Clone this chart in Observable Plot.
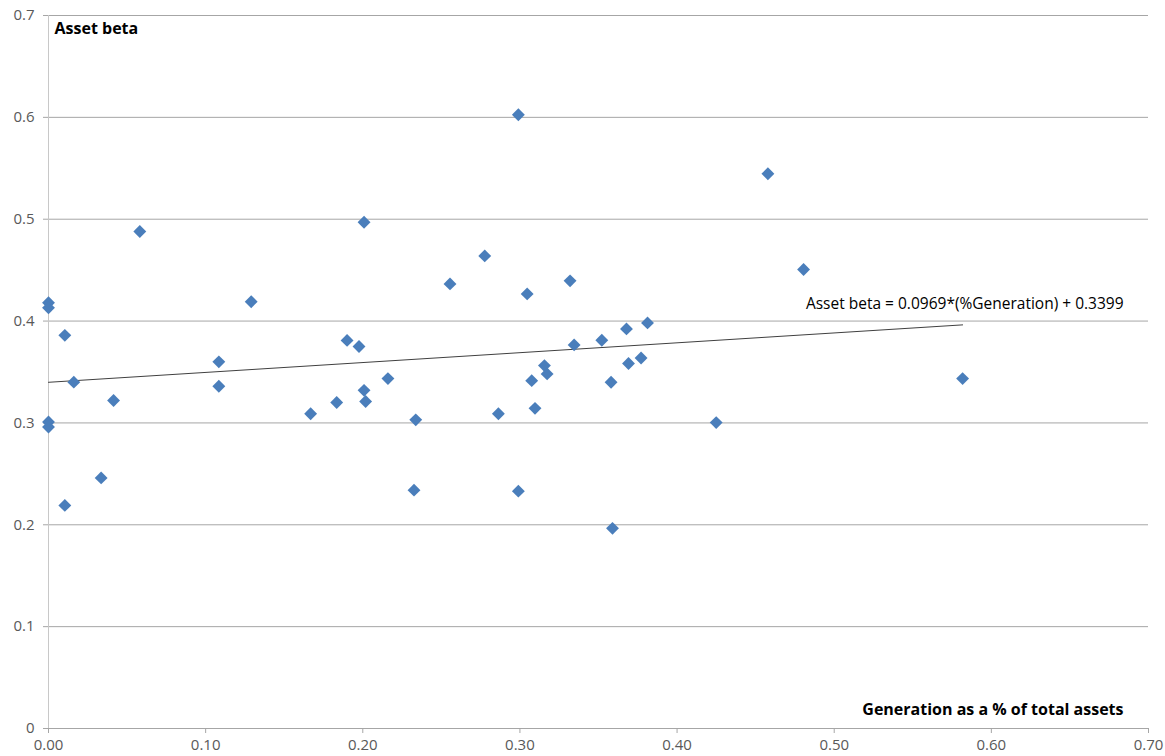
<!DOCTYPE html>
<html>
<head>
<meta charset="utf-8">
<script src="https://cdn.jsdelivr.net/npm/d3@7"></script>
<script src="https://cdn.jsdelivr.net/npm/@observablehq/plot@0.6"></script>
<style>
  html, body { margin: 0; padding: 0; background: #ffffff; }
  #chart svg { display: block; }
</style>
</head>
<body>
<div id="chart"></div>
<script>
// Generation as a % of total assets (x) and asset beta (y)
const genShare = [0, 0, 0.0104, 0.0161, 0, 0, 0.0104, 0.0335, 0.0414, 0.0581,
  0.1084, 0.1084, 0.129, 0.1668, 0.1834, 0.190, 0.1976, 0.2008, 0.2008, 0.2018,
  0.216, 0.2337, 0.2326, 0.2555, 0.2776, 0.2863, 0.299, 0.299, 0.3046, 0.3075,
  0.3096, 0.3156, 0.3173, 0.3319, 0.3345, 0.3521, 0.358, 0.3589, 0.3678, 0.3691,
  0.3771, 0.3812, 0.4249, 0.4578, 0.4805, 0.5817];
const assetBeta = [0.418, 0.413, 0.386, 0.340, 0.301, 0.296, 0.219, 0.246, 0.322, 0.488,
  0.360, 0.336, 0.419, 0.309, 0.320, 0.381, 0.375, 0.497, 0.332, 0.321,
  0.3435, 0.303, 0.234, 0.4365, 0.464, 0.309, 0.6025, 0.233, 0.4267, 0.3415,
  0.3143, 0.3563, 0.3481, 0.4395, 0.3766, 0.3812, 0.3399, 0.1965, 0.3923, 0.3583,
  0.3638, 0.3982, 0.3003, 0.5446, 0.4506, 0.3435];

// Linear trend line from the chart's equation
const trendSlope = 0.0969;
const trendIntercept = 0.3399;
const trendLabel = "Asset beta = 0.0969*(%Generation) + 0.3399";
const trendLabelPos = [0.482, 0.417];

const xTicks = [0, 0.1, 0.2, 0.3, 0.4, 0.5, 0.6, 0.7];
const xTickLabels = ["0.00", "0.10", "0.20", "0.30", "0.40", "0.50", "0.60", "0.70"];
const yTicks = [0, 0.1, 0.2, 0.3, 0.4, 0.5, 0.6, 0.7];
const yTickLabels = ["0", "0.1", "0.2", "0.3", "0.4", "0.5", "0.6", "0.7"];

const yTitle = "Asset beta";
const xTitle = "Generation as a % of total assets";

const points = genShare.map((x, i) => ({x, y: assetBeta[i]}));
const xMax = d3.max(genShare);
const trend = [0, xMax].map(x => ({x, y: trendIntercept + trendSlope * x}));

const font = "'Open Sans', 'Noto Sans', sans-serif";

const chart = Plot.plot({
  width: 1165,
  height: 756,
  marginLeft: 48,
  marginRight: 17,
  marginTop: 15,
  marginBottom: 28,
  style: {fontFamily: font, fontSize: "15px", background: "#ffffff"},
  x: {domain: [0, 0.7]},
  y: {domain: [0, 0.7]},
  marks: [
    Plot.ruleY(yTicks, {stroke: "#a6a6a6", strokeWidth: 1}),
    Plot.ruleX([0], {stroke: "#c8c8c8", strokeWidth: 1}),
    Plot.axisY({ticks: yTicks, tickFormat: (d, i) => yTickLabels[i], tickSize: 5, tickPadding: 9,
      stroke: "#a6a6a6", fill: "#595959", fontSize: 15, label: null}),
    Plot.axisX({ticks: xTicks, tickFormat: (d, i) => xTickLabels[i], tickSize: 5, tickPadding: 6,
      stroke: "#a6a6a6", fill: "#595959", fontSize: 15, label: null}),
    Plot.line(trend, {x: "x", y: "y", stroke: "#404040", strokeWidth: 1}),
    Plot.dot(points, {x: "x", y: "y", symbol: "diamond2", r: 5.8, fill: "#4a7ebb", stroke: "none"}),
    Plot.text([trendLabel], {x: trendLabelPos[0], y: trendLabelPos[1], text: d => d,
      textAnchor: "start", fontSize: 15.5, fill: "#000000"}),
    Plot.text([yTitle], {frameAnchor: "top-left", dx: 6, dy: 7, text: d => d,
      fontWeight: "bold", fontSize: 16, fill: "#000000"}),
    Plot.text([xTitle], {frameAnchor: "bottom-right", lineAnchor: "middle", dx: -25, dy: -19, text: d => d,
      textAnchor: "end", fontWeight: "bold", fontSize: 16, fill: "#000000"})
  ]
});

document.getElementById("chart").appendChild(chart);
</script>
</body>
</html>
